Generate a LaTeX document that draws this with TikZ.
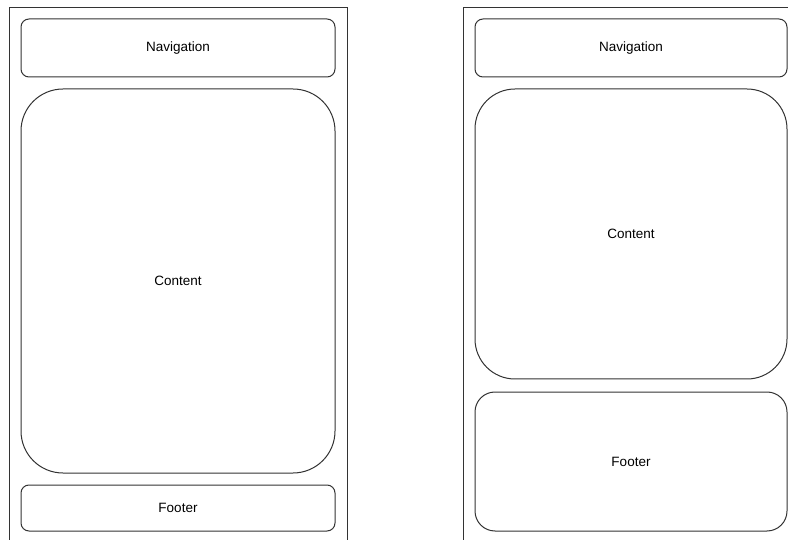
\documentclass[tikz,border=0pt]{standalone}
\usepackage{fontspec}
\setmainfont{Liberation Sans}
\begin{document}
\begin{tikzpicture}[x=1pt, y=-1pt,
    every node/.style={font=\fontsize{13.5}{16}\selectfont},
    panel/.style={draw=black!80, line width=1pt, rectangle, inner sep=0pt},
    navbox/.style={panel, rounded corners=8pt, minimum width=314pt, minimum height=58pt}]
        \useasboundingbox (0,0) rectangle (788,540);
        \clip (0,0) rectangle (788,540);

        % outer frames
        \draw[draw=black!80, line width=1pt] (9.5,560) -- (9.5,8) -- (347,8) -- (347,560);
        \draw[draw=black!80, line width=1pt] (463,560) -- (463,8) -- (800,8);

        % left layout
        \node[navbox] (navL) at (178,48) {Navigation};
        \node[panel, rounded corners=42pt, minimum width=314pt, minimum height=384pt] (contentL) at (178,281) {Content};
        \node[panel, rounded corners=8pt, minimum width=314pt, minimum height=46pt] (footerL) at (178,508) {Footer};

        % right layout
        \node[navbox, minimum width=312pt] (navR) at (631,48) {Navigation};
        \node[panel, rounded corners=40pt, minimum width=312pt, minimum height=290pt] (contentR) at (631,234) {Content};
        \node[panel, rounded corners=20pt, minimum width=312pt, minimum height=139pt] (footerR) at (631,461.5) {Footer};
    \end{tikzpicture}
\end{document}
